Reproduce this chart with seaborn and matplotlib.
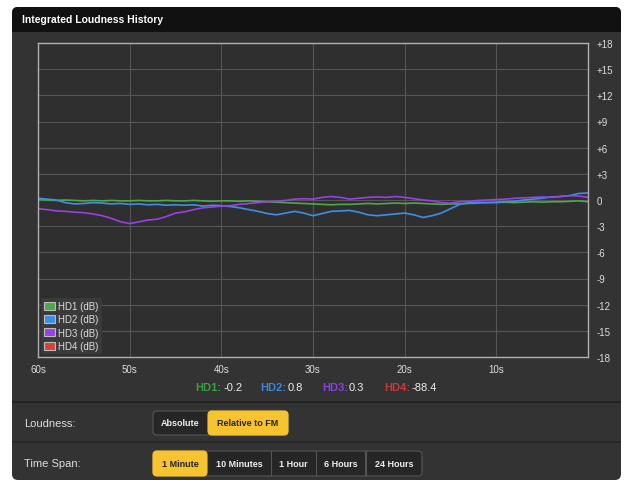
import numpy as np
import pandas as pd
import matplotlib
matplotlib.use("Agg")
import matplotlib.pyplot as plt
from matplotlib.patches import Rectangle, FancyBboxPatch, Patch
import seaborn as sns

# seconds ago, 60 -> 0
seconds = list(range(60, -1, -1))

hd1 = [0.05, 0.0, -0.05, 0.0, -0.05, -0.1, -0.05, -0.1, -0.05, -0.1,
       -0.1, -0.05, -0.1, -0.1, -0.05, -0.1, -0.1, -0.05, -0.1, -0.15,
       -0.1, -0.1, -0.15, -0.1, -0.15, -0.2, -0.25, -0.3, -0.35, -0.4,
       -0.45, -0.5, -0.55, -0.5, -0.5, -0.45, -0.4, -0.45, -0.4, -0.35,
       -0.4, -0.35, -0.4, -0.45, -0.5, -0.45, -0.45, -0.4, -0.35, -0.3,
       -0.3, -0.25, -0.3, -0.25, -0.2, -0.25, -0.2, -0.2, -0.15, -0.1, -0.2]
hd2 = [0.2, 0.1, 0.0, -0.3, -0.45, -0.4, -0.3, -0.35, -0.45, -0.4,
       -0.5, -0.45, -0.55, -0.5, -0.6, -0.55, -0.6, -0.55, -0.7, -0.6,
       -0.65, -0.75, -0.9, -1.1, -1.3, -1.55, -1.7, -1.5, -1.3, -1.5,
       -1.8, -1.55, -1.3, -1.25, -1.2, -1.4, -1.7, -1.8, -1.7, -1.6,
       -1.5, -1.7, -2.0, -1.8, -1.5, -1.0, -0.5, -0.3, -0.25, -0.3,
       -0.25, -0.2, -0.15, 0.0, 0.1, 0.2, 0.35, 0.4, 0.5, 0.75, 0.8]
hd3 = [-1.0, -1.1, -1.25, -1.3, -1.4, -1.45, -1.6, -1.8, -2.1, -2.5,
       -2.7, -2.5, -2.3, -2.2, -1.9, -1.5, -1.35, -1.1, -0.9, -0.8,
       -0.7, -0.65, -0.5, -0.4, -0.3, -0.2, -0.15, -0.05, 0.1, 0.15,
       0.1, 0.3, 0.4, 0.3, 0.1, 0.2, 0.3, 0.35, 0.3, 0.4,
       0.3, 0.15, 0.0, -0.1, -0.3, -0.35, -0.2, -0.15, -0.05, 0.0,
       0.05, 0.1, 0.2, 0.25, 0.3, 0.35, 0.3, 0.4, 0.5, 0.45, 0.3]

channels = ["HD1", "HD2", "HD3", "HD4"]
current = ["-0.2", "0.8", "0.3", "-88.4"]
line_colors = ["#4ea84a", "#3d8fe6", "#9a40e8", "#d2433c"]
text_colors = ["#3e9f42", "#3a86e0", "#8b3fe2", "#c9393a"]

y_ticks = [18, 15, 12, 9, 6, 3, 0, -3, -6, -9, -12, -15, -18]
x_ticks = [60, 50, 40, 30, 20, 10, 0]
x_labels = ["60s", "50s", "40s", "30s", "20s", "10s", ""]

loud_buttons = ["Absolute", "Relative to FM"]
span_buttons = ["1 Minute", "10 Minutes", "1 Hour", "6 Hours", "24 Hours"]

df = pd.DataFrame({
    "t": seconds * 3,
    "dB": hd1 + hd2 + hd3,
    "channel": ["HD1"] * len(hd1) + ["HD2"] * len(hd2) + ["HD3"] * len(hd3),
})

sns.set_style("dark")
plt.rcParams["font.family"] = ["Liberation Sans", "DejaVu Sans"]

W, H = 626, 481
fig = plt.figure(figsize=(W / 100, H / 100), dpi=100, facecolor="white")


def fx(x):
    return x / W


def fy(y):
    return 1 - y / H


def box(x0, y0, x1, y1, fc, ec="none", r=0.0, z=1, lw=0.8):
    if r > 0:
        p = FancyBboxPatch((fx(x0), fy(y1)), fx(x1) - fx(x0), fy(y0) - fy(y1),
                           boxstyle="round,pad=0,rounding_size=%f" % (r / W),
                           mutation_aspect=W / H, transform=fig.transFigure,
                           facecolor=fc, edgecolor=ec, lw=lw, zorder=z)
    else:
        p = Rectangle((fx(x0), fy(y1)), fx(x1) - fx(x0), fy(y0) - fy(y1),
                      transform=fig.transFigure, facecolor=fc, edgecolor=ec,
                      lw=lw, zorder=z)
    fig.add_artist(p)


# panel + title bar
box(12, 8, 621, 481, "#333333", r=6, z=0)
box(12, 8, 621, 33, "#111111", r=6, z=0)
box(12, 26, 621, 33, "#111111", z=0)
fig.text(fx(22), fy(20), "Integrated Loudness History", color="white",
         fontsize=7.5, fontweight="bold", va="center", ha="left")

# chart
ax = fig.add_axes([fx(38), fy(358), fx(588) - fx(38), fy(44) - fy(358)])
ax.set_facecolor("#2f2f2f")
sns.lineplot(data=df, x="t", y="dB", hue="channel", palette=line_colors[:3],
             legend=False, lw=1.2, ax=ax)
ax.set_xlim(60, 0)
ax.set_ylim(-18, 18)
ax.set_xticks(x_ticks)
ax.set_xticklabels(x_labels)
ax.set_yticks(y_ticks)
ax.set_yticklabels(["+%d" % v if v > 0 else str(v) for v in y_ticks])
ax.yaxis.tick_right()
ax.tick_params(colors="#dddddd", labelsize=7, length=0)
ax.tick_params(axis="y", pad=6)
ax.tick_params(axis="x", pad=5)
ax.set_xlabel("")
ax.set_ylabel("")
ax.grid(True, color="#555555", lw=0.8)
for s in ax.spines.values():
    s.set_color("#b0b0b0")
    s.set_linewidth(1.0)

handles = [Patch(facecolor=c, edgecolor="#bbbbbb", lw=0.8) for c in line_colors]
leg = ax.legend(handles, [c + " (dB)" for c in channels], loc="lower left",
                fontsize=7, frameon=True, facecolor="#3a3a3a", edgecolor="none",
                framealpha=1, fancybox=False, handlelength=1.1, handleheight=0.9,
                handletextpad=0.4, labelspacing=0.35, borderpad=0.3,
                borderaxespad=0.3)
for t in leg.get_texts():
    t.set_color("#dddddd")

# current readout
pos = [(195, 223), (260, 288), (322, 349), (384, 412)]
for (xl, xv), name, val, col in zip(pos, channels, current, text_colors):
    fig.text(fx(xl), fy(388), name + ":", color=col, fontsize=8,
             fontweight="bold", va="center")
    fig.text(fx(xv), fy(388), val, color="#eeeeee", fontsize=8, va="center")

# separators
box(12, 402, 621, 404, "#232323")
box(12, 442, 621, 444, "#282828")

# controls
fig.text(fx(24), fy(424), "Loudness:", color="#dddddd", fontsize=8, va="center")
fig.text(fx(24), fy(464), "Time Span:", color="#dddddd", fontsize=8, va="center")


def button_row(names, edges, sel, y0, y1):
    box(edges[0], y0, edges[-1], y1, "#262626", ec="#555555", r=4, z=2)
    for i, name in enumerate(names):
        a, b = edges[i], edges[i + 1]
        if i == sel:
            box(a, y0, b, y1, "#f7c42f", ec="#f7c42f", r=4, z=3)
            col = "#222222"
        else:
            col = "#eeeeee"
            if i > 0 and i - 1 != sel:
                box(a - 0.5, y0, a + 0.5, y1, "#555555", z=3)
        fig.text(fx((a + b) / 2), fy((y0 + y1) / 2), name, color=col,
                 fontsize=6.5, fontweight="bold", ha="center", va="center",
                 zorder=4)


button_row(loud_buttons, [153, 208, 288], 1, 412, 436)
button_row(span_buttons, [153, 207, 271, 316, 366, 422], 0, 452, 477)

fig.savefig("out.png", dpi=100, facecolor="white")
